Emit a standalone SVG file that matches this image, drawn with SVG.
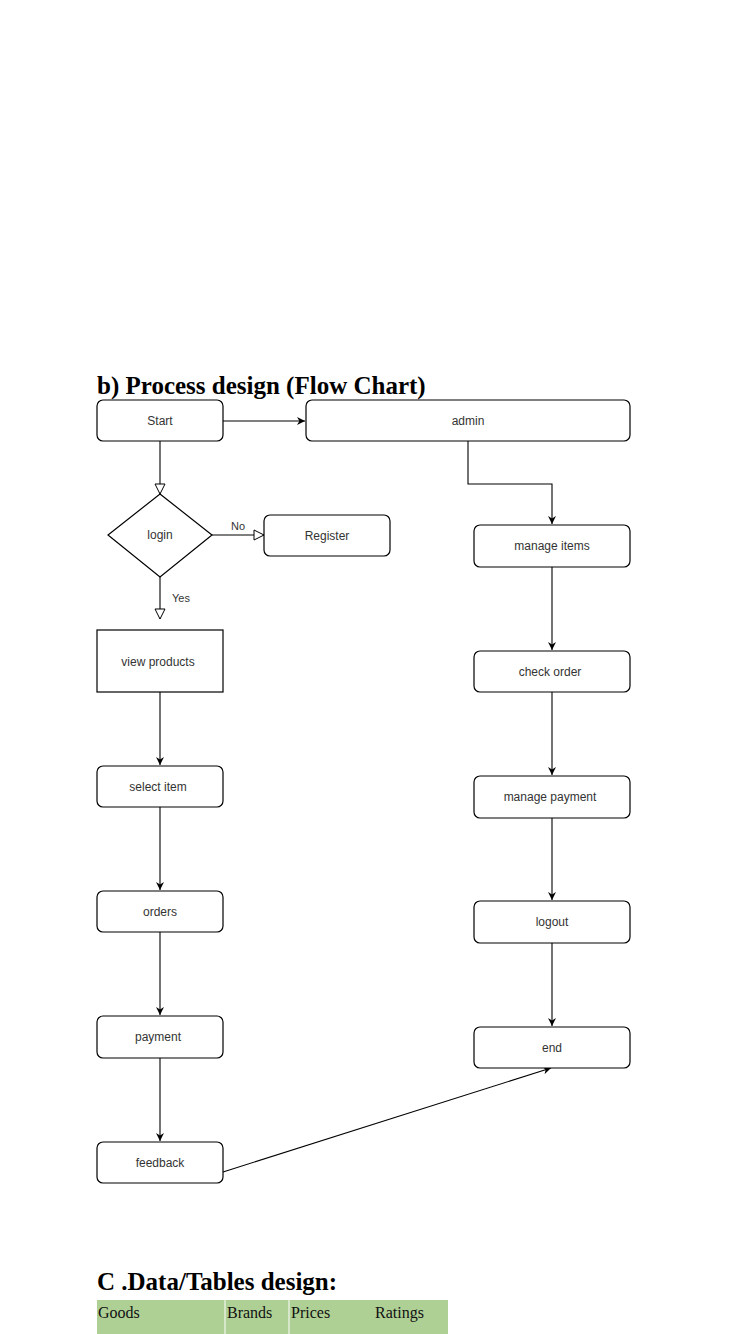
<svg xmlns="http://www.w3.org/2000/svg" width="750" height="1334" viewBox="0 0 750 1334">
<defs>
<style>
.n{fill:#fff;stroke:#000;stroke-width:1.2}
.t{font-family:"Liberation Sans",Arial,sans-serif;font-size:12px;fill:#333;text-anchor:middle}
.h{font-family:"Liberation Serif","Times New Roman",serif;font-weight:bold;font-size:25px;fill:#000}
.c{fill:none;stroke:#000;stroke-width:1.1}
.lbl{font-family:"Liberation Sans",Arial,sans-serif;font-size:11px;fill:#333}
.tb{font-family:"Liberation Serif","Times New Roman",serif;font-size:16px;fill:#111}
</style>
<marker id="a" viewBox="0 0 10 10" refX="10" refY="5" markerWidth="8" markerHeight="8" markerUnits="userSpaceOnUse" orient="auto"><path d="M0,0 L10,5 L0,10 L3,5 Z" fill="#000"/></marker>
<marker id="o" viewBox="0 0 12 12" refX="11" refY="6" markerWidth="12" markerHeight="12" markerUnits="userSpaceOnUse" orient="auto"><path d="M1,1 L11,6 L1,11 Z" fill="#fff" stroke="#000" stroke-width="1"/></marker>
</defs>
<rect width="750" height="1334" fill="#fff"/>
<text class="h" x="97" y="394">b) Process design (Flow Chart)</text>

<g id="connectors">
<path class="c" d="M223,421 H305" marker-end="url(#a)"/>
<path class="c" d="M468,441 V484 H552 V524" marker-end="url(#a)"/>
<path class="c" d="M552,567 V650" marker-end="url(#a)"/>
<path class="c" d="M552,692 V775" marker-end="url(#a)"/>
<path class="c" d="M552,818 V900" marker-end="url(#a)"/>
<path class="c" d="M552,943 V1026" marker-end="url(#a)"/>
<path class="c" d="M160,441 V494" marker-end="url(#o)"/>
<path class="c" d="M212,535 H264" marker-end="url(#o)"/>
<path class="c" d="M160,577 V619" marker-end="url(#o)"/>
<path class="c" d="M160,682 V765" marker-end="url(#a)"/>
<path class="c" d="M160,807 V890" marker-end="url(#a)"/>
<path class="c" d="M160,932 V1015" marker-end="url(#a)"/>
<path class="c" d="M160,1058 V1141" marker-end="url(#a)"/>
<path class="c" d="M223,1172 L551,1068" marker-end="url(#a)"/>
<text class="lbl" x="231" y="530">No</text>
<text class="lbl" x="172" y="602">Yes</text>
</g>

<g id="start"><rect class="n" x="97" y="400" width="126" height="41" rx="6"/><text class="t" x="160" y="425">Start</text></g>
<g id="admin"><rect class="n" x="306" y="400" width="324" height="41" rx="6"/><text class="t" x="468" y="425">admin</text></g>
<g id="login"><polygon class="n" points="160,494 212,535 160,577 108,535"/><text class="t" x="160" y="539">login</text></g>
<g id="register"><rect class="n" x="264" y="515" width="126" height="41" rx="6"/><text class="t" x="327" y="540">Register</text></g>
<g id="view-products"><rect class="n" x="97" y="630" width="126" height="62"/><text class="t" x="158" y="666">view products</text></g>
<g id="select-item"><rect class="n" x="97" y="766" width="126" height="41" rx="6"/><text class="t" x="158" y="791">select item</text></g>
<g id="orders"><rect class="n" x="97" y="891" width="126" height="41" rx="6"/><text class="t" x="160" y="916">orders</text></g>
<g id="payment"><rect class="n" x="97" y="1016" width="126" height="42" rx="6"/><text class="t" x="158" y="1041">payment</text></g>
<g id="feedback"><rect class="n" x="97" y="1142" width="126" height="41" rx="6"/><text class="t" x="160" y="1167">feedback</text></g>
<g id="manage-items"><rect class="n" x="474" y="525" width="156" height="42" rx="6"/><text class="t" x="552" y="550">manage items</text></g>
<g id="check-order"><rect class="n" x="474" y="651" width="156" height="41" rx="6"/><text class="t" x="550" y="676">check order</text></g>
<g id="manage-payment"><rect class="n" x="474" y="776" width="156" height="42" rx="6"/><text class="t" x="550" y="801">manage payment</text></g>
<g id="logout"><rect class="n" x="474" y="901" width="156" height="42" rx="6"/><text class="t" x="552" y="926">logout</text></g>
<g id="end"><rect class="n" x="474" y="1027" width="156" height="41" rx="6"/><text class="t" x="552" y="1052">end</text></g>

<text class="h" x="97" y="1290">C .Data/Tables design:</text>
<g id="table">
<rect x="97" y="1300" width="351" height="34" fill="#afd095"/>
<line x1="225" y1="1300" x2="225" y2="1334" stroke="#fff" stroke-width="1"/>
<line x1="289" y1="1300" x2="289" y2="1334" stroke="#fff" stroke-width="1"/>
<text class="tb" x="98" y="1318">Goods</text>
<text class="tb" x="227" y="1318">Brands</text>
<text class="tb" x="291" y="1318">Prices</text>
<text class="tb" x="375" y="1318">Ratings</text>
</g>
</svg>
